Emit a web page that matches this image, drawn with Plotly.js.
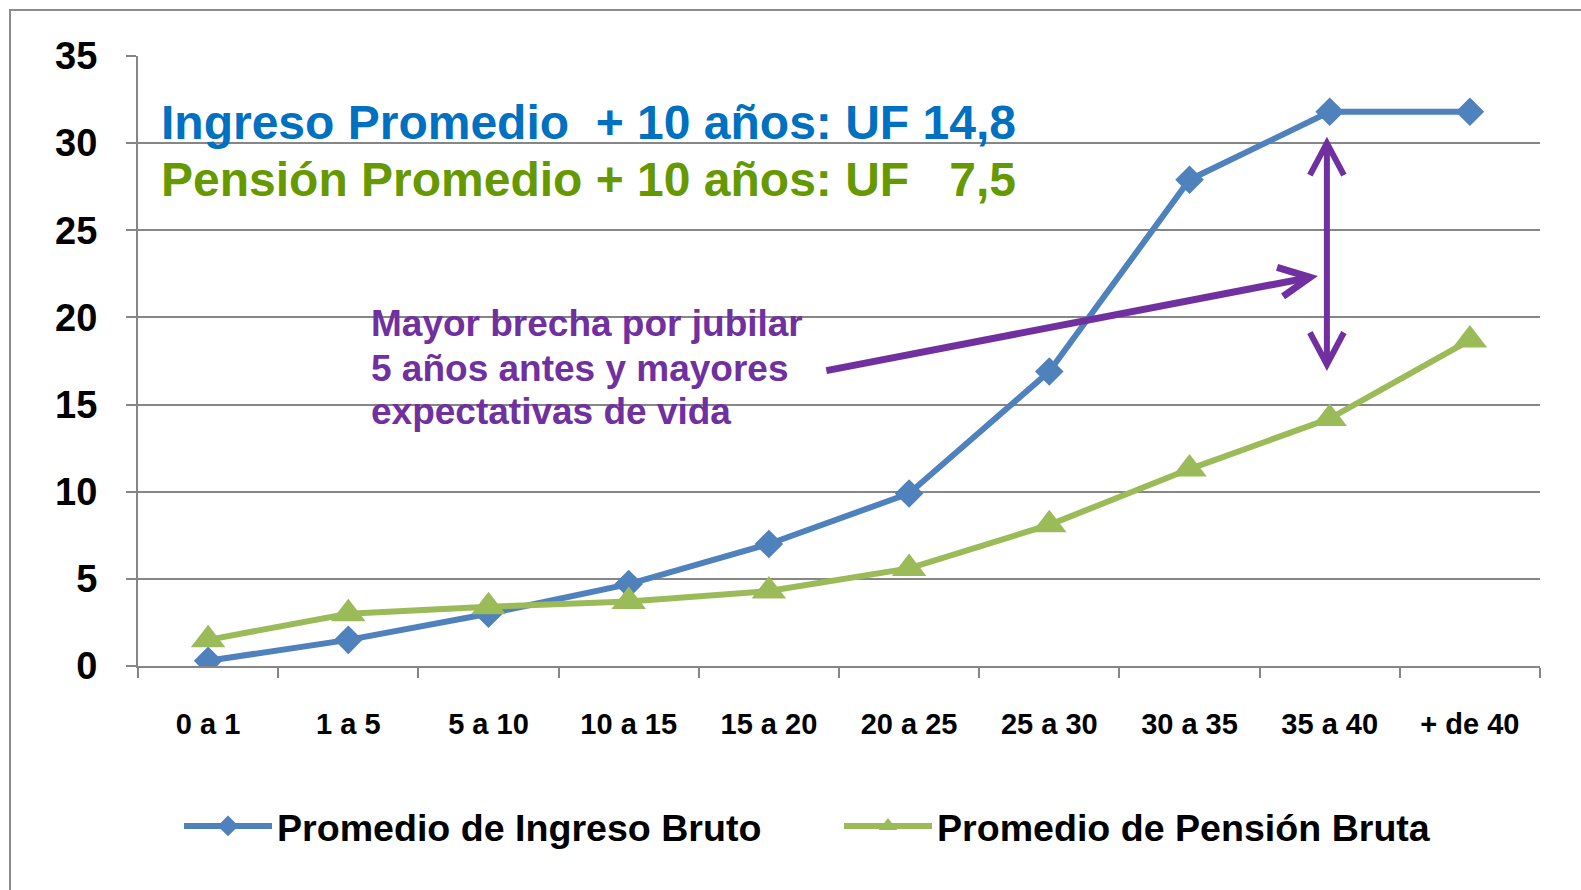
<!DOCTYPE html>
<html>
<head>
<meta charset="utf-8">
<script src="https://cdn.plot.ly/plotly-3.0.1.min.js"></script>
<style>
  html, body { margin: 0; padding: 0; background: #ffffff; }
  #wrap { position: relative; width: 1581px; height: 890px; overflow: hidden; }
  #chart { position: absolute; left: 0; top: 0; width: 1581px; height: 890px; }
  #frame { position: absolute; left: 9px; top: 9px; width: 1600px; height: 900px;
           border-left: 2px solid #8c8c8c; border-top: 2px solid #8c8c8c; pointer-events: none; }
</style>
</head>
<body>
<div id="wrap">
  <div id="chart"></div>
  <div id="frame"></div>
</div>
<script>
// ---- data ----
var categories = ['0 a 1', '1 a 5', '5 a 10', '10 a 15', '15 a 20', '20 a 25', '25 a 30', '30 a 35', '35 a 40', '+ de 40'];
var ingresoBruto = [0.3, 1.5, 3.0, 4.7, 7.0, 9.9, 16.9, 27.9, 31.8, 31.8];
var pensionBruta = [1.5, 3.0, 3.4, 3.7, 4.3, 5.6, 8.1, 11.3, 14.2, 18.7];
var seriesNames = ['Promedio de Ingreso Bruto', 'Promedio de Pensión Bruta'];
var titleLine1 = 'Ingreso Promedio\u00a0 + 10 años: UF 14,8';
var titleLine2 = 'Pensión Promedio + 10 años: UF\u00a0\u00a0 7,5';
var noteLines = ['Mayor brecha por jubilar', '5 años antes y mayores', 'expectativas de vida'];

// ---- geometry helpers (pixel -> paper) ----
var W = 1581, H = 890;
var M = {l: 138, r: 41, t: 56, b: 224};
var PW = W - M.l - M.r, PH = H - M.t - M.b;
function xp(px) { return (px - M.l) / PW; }
function yp(py) { return (H - M.b - py) / PH; }

var GRID = '#868686';
var PURPLE = '#7030A0';
var arial = "'Liberation Sans', Arial, sans-serif";

var traces = [
  {
    x: categories, y: ingresoBruto, name: seriesNames[0], type: 'scatter', mode: 'lines+markers',
    line: {color: '#4F81BD', width: 6},
    marker: {symbol: 'diamond', size: 22, color: '#4F81BD'}
  },
  {
    x: categories, y: pensionBruta, name: seriesNames[1], type: 'scatter', mode: 'lines+markers',
    line: {color: '#9BBB59', width: 6},
    marker: {symbol: 'triangle-up', size: 30, color: '#9BBB59'}
  }
];

var annotations = [
  {xref: 'paper', yref: 'paper', x: xp(161), y: yp(122.5), xanchor: 'left', yanchor: 'middle',
   text: titleLine1, showarrow: false, borderpad: 0, borderwidth: 0,
   font: {family: arial, size: 48, color: '#0070C0', weight: 'bold'}},
  {xref: 'paper', yref: 'paper', x: xp(161), y: yp(179.5), xanchor: 'left', yanchor: 'middle',
   text: titleLine2, showarrow: false, borderpad: 0, borderwidth: 0,
   font: {family: arial, size: 48, color: '#669900', weight: 'bold'}}
];
var noteY = [323.8, 368.8, 411.3];
for (var i = 0; i < noteLines.length; i++) {
  annotations.push({xref: 'paper', yref: 'paper', x: xp(371), y: yp(noteY[i]), xanchor: 'left', yanchor: 'middle',
    text: noteLines[i], showarrow: false, borderpad: 0, borderwidth: 0,
    font: {family: arial, size: 37, color: PURPLE, weight: 'bold'}});
}

var shapes = [
  // white boxes behind the texts (cover gridlines)
  {type: 'rect', xref: 'paper', yref: 'paper', layer: 'between', x0: xp(139), x1: xp(1044), y0: yp(85), y1: yp(215),
   fillcolor: '#ffffff', line: {width: 0}},
  {type: 'rect', xref: 'paper', yref: 'paper', layer: 'between', x0: xp(351), x1: xp(829), y0: yp(300), y1: yp(432),
   fillcolor: '#ffffff', line: {width: 0}},
  // slanted arrow shaft + head
  {type: 'line', xref: 'x', yref: 'y', layer: 'above', x0: 4.41, y0: 16.95, x1: 7.86, y1: 22.3,
   line: {color: PURPLE, width: 7}},
  {type: 'path', xref: 'x', yref: 'y', layer: 'above', xsizemode: 'pixel', ysizemode: 'pixel', xanchor: 7.86, yanchor: 22.3,
   path: 'M-33,10 L0,0 L-27,-19', line: {color: PURPLE, width: 7}},
  // vertical double arrow
  {type: 'line', xref: 'x', yref: 'y', layer: 'above', x0: 7.98, y0: 17.3, x1: 7.98, y1: 30.0,
   line: {color: PURPLE, width: 6}},
  {type: 'path', xref: 'x', yref: 'y', layer: 'above', xsizemode: 'pixel', ysizemode: 'pixel', xanchor: 7.98, yanchor: 30.0,
   path: 'M-17,-32 L0,0 L17,-32', line: {color: PURPLE, width: 6}},
  {type: 'path', xref: 'x', yref: 'y', layer: 'above', xsizemode: 'pixel', ysizemode: 'pixel', xanchor: 7.98, yanchor: 17.3,
   path: 'M-17,32 L0,0 L17,32', line: {color: PURPLE, width: 6}}
];

var layout = {
  width: W, height: H,
  margin: M,
  paper_bgcolor: '#ffffff', plot_bgcolor: '#ffffff',
  showlegend: true,
  legend: {
    orientation: 'h', xref: 'container', yref: 'container',
    x: 179 / W, xanchor: 'left', y: 1 - 826 / H, yanchor: 'middle',
    font: {family: arial, size: 37.6, color: '#000000', weight: 'bold'},
    itemwidth: 88, entrywidth: 557, entrywidthmode: 'pixels', bgcolor: 'rgba(0,0,0,0)'
  },
  xaxis: {
    type: 'category', range: [-0.5, 9.5], automargin: false, tickangle: 0,
    showline: true, linecolor: GRID, linewidth: 2,
    ticks: 'outside', tickson: 'boundaries', ticklen: 10, tickwidth: 2, tickcolor: GRID,
    showgrid: false, zeroline: false,
    tickfont: {family: arial, size: 29, color: '#000000', weight: 'bold'},
    ticklabelstandoff: 31
  },
  yaxis: {
    range: [0, 35], dtick: 5, tick0: 0, automargin: false,
    showline: true, linecolor: GRID, linewidth: 2,
    ticks: 'outside', ticklen: 10, tickwidth: 2, tickcolor: GRID,
    showgrid: true, gridcolor: GRID, gridwidth: 2, zeroline: false,
    tickfont: {family: arial, size: 38, color: '#000000', weight: 'bold'},
    ticklabelstandoff: 21
  },
  annotations: annotations,
  shapes: shapes
};

Plotly.newPlot('chart', traces, layout, {displayModeBar: false, staticPlot: true});
</script>
</body>
</html>
